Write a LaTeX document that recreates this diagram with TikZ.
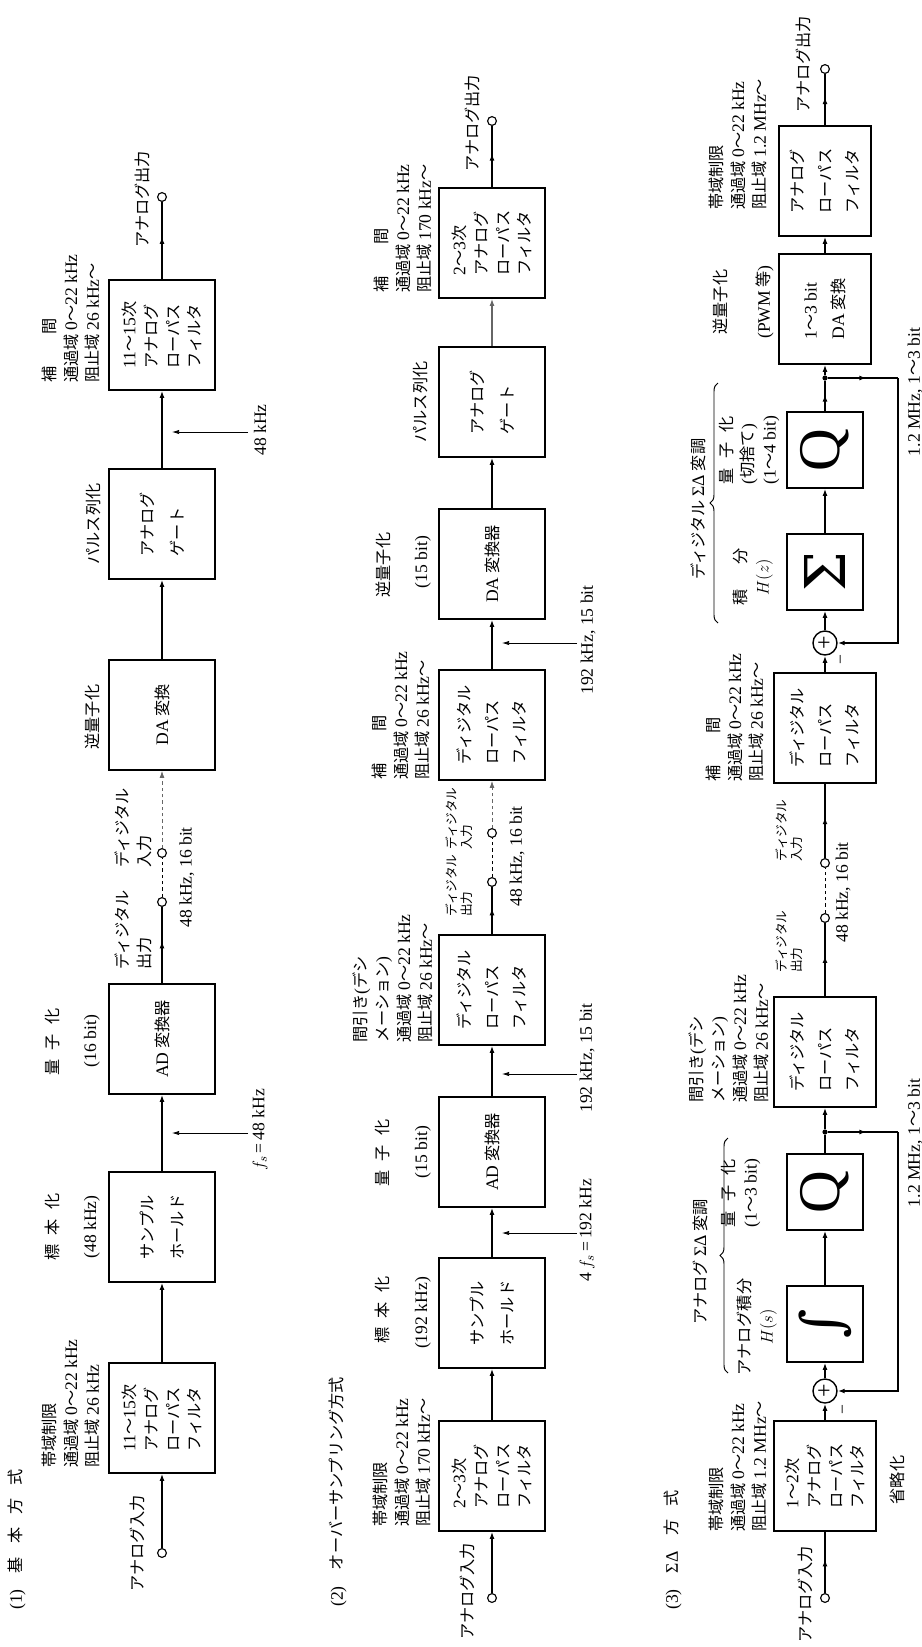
\documentclass[tikz,border=0pt]{standalone}
\usepackage{fontspec}
\setmainfont{Liberation Serif}
\newfontfamily\jpfont{Noto Sans CJK JP}
\newfontfamily\glyphfont{DejaVu Serif}
\usetikzlibrary{arrows.meta,decorations.markings,decorations.pathreplacing}
\newcommand{\latn}[1]{{\rmfamily\fontsize{12.5}{15}\selectfont #1}}
\newcommand{\passband}{通過域 \latn{0}～\latn{22 kHz}}

\begin{document}
\begin{tikzpicture}[x=0.025cm, y=-0.025cm,
  every node/.style={rotate=90, inner sep=0pt, align=left, font=\jpfont\fontsize{11.5}{15.5}\selectfont},
  blk/.style={draw, line width=1.1pt, minimum width=2.75cm, minimum height=2.65cm},
  sq/.style={draw, line width=1.1pt, minimum width=1.9cm, minimum height=1.9cm},
  big/.style={font=\rmfamily\fontsize{42}{42}\selectfont},
  bigsym/.style={font=\glyphfont\fontsize{40}{40}\selectfont},
  term/.style={circle, draw, fill=white, line width=0.8pt, minimum size=0.22cm},
  dot/.style={circle, fill, minimum size=0.13cm},
  sum/.style={circle, draw, line width=1pt, minimum size=0.6cm, font=\rmfamily\fontsize{17}{17}\selectfont},
  small/.style={font=\jpfont\fontsize{9}{11}\selectfont},
  flow/.style={line width=1.1pt, -{Latex[length=5pt,width=3.5pt]}},
  plain/.style={line width=1.1pt},
  midarr/.style={line width=1.1pt, postaction={decorate}, decoration={markings, mark=at position 0.55 with {\arrow{Latex[length=5pt,width=3.5pt]}}}},
  dig/.style={line width=0.7pt, dash pattern=on 2.5pt off 2pt},
  clk/.style={line width=0.5pt, -{Latex[length=5pt,width=3pt]}, shorten >=0.25cm},
  brc/.style={decorate, decoration={brace, amplitude=0.2cm}, line width=0.7pt}
]
\useasboundingbox (0,0) rectangle (922,1647);

% (1) basic
\node[anchor=west] (s1t) at (17,1610) {\latn{(1)}\hspace{1em}基\hspace{0.8em}本\hspace{0.8em}方\hspace{0.8em}式};
\node[term] (s1in) at (162,1553) {};
\node[blk] (s1lpfin) at (162,1418) {\latn{11}～\latn{15}次\\アナログ\\ローパス\\フィルタ};
\node[blk] (s1sh) at (162,1227) {サンプル\\[6pt]ホールド};
\node[blk] (s1ad) at (162,1039) {\latn{AD} 変換器};
\node[term] (s1dout) at (162,902) {};
\node[term] (s1din) at (162,853) {};
\node[blk] (s1da) at (162,715) {\latn{DA} 変換};
\node[blk] (s1gate) at (162,524) {アナログ\\[6pt]ゲート};
\node[blk] (s1lpfout) at (162,335) {\latn{11}～\latn{15}次\\アナログ\\ローパス\\フィルタ};
\node[term] (s1out) at (162,197) {};

\node[anchor=west] (s1lin) at (137,1592) {アナログ入力};
\node[anchor=west] (s1lpfinl) at (71,1468) {帯域制限\\\passband\\阻止域 \latn{26 kHz}};
\node (s1shl1) at (52,1227) {標\hspace{0.6em}本\hspace{0.6em}化};
\node (s1shl2) at (92,1227) {\latn{(48 kHz)}};
\node (s1adl1) at (52,1042) {量\hspace{0.6em}子\hspace{0.6em}化};
\node (s1adl2) at (92,1041) {\latn{(16 bit)}};
\node[anchor=west] (s1dol) at (133,970) {ディジタル\\出力};
\node[anchor=west] (s1dil) at (133,868) {ディジタル\\入力};
\node[anchor=west] (s1rate) at (187,928) {\latn{48 kHz, 16 bit}};
\node (s1dal) at (92,717) {逆量子化};
\node (s1gatel) at (93,524) {パルス列化};
\node[anchor=west] (s1lpfoutl) at (71,383) {補　　間\\\passband\\阻止域 \latn{26 kHz}～};
\node[anchor=west] (s1lout) at (142,248) {アナログ出力};
\node (s1c1l) at (260,1130) {\latn{$f_s$\,=\,48 kHz}};
\node (s1c2l) at (260,430) {\latn{48 kHz}};
\coordinate (s1c1) at (248,1133);
\coordinate (s1c2) at (248,432);

\draw[flow] (s1in) -- (s1lpfin);
\draw[flow] (s1lpfin) -- (s1sh);
\draw[flow] (s1sh) -- (s1ad);
\draw[midarr] (s1ad) -- (s1dout);
\draw[dig] (s1dout) -- (s1din);
\draw[dig, black!60, -{Latex[length=5pt,width=3.5pt]}] (s1din) -- (s1da);
\draw[flow] (s1da) -- (s1gate);
\draw[flow] (s1gate) -- (s1lpfout);
\draw[midarr] (s1lpfout) -- (s1out);
\draw[clk] (s1c1) -- (s1c1 -| s1ad.center);
\draw[clk] (s1c2) -- (s1c2 -| s1gate.center);

% (2) oversampling
\node[anchor=west] (s2t) at (338,1607) {\latn{(2)}\hspace{1em}オーバーサンプリング方式};
\node[term] (s2in) at (492,1598) {};
\node[blk] (s2lpfin) at (492,1476) {\latn{2}～\latn{3}次\\アナログ\\ローパス\\フィルタ};
\node[blk] (s2sh) at (492,1313) {サンプル\\[6pt]ホールド};
\node[blk] (s2ad) at (492,1152) {\latn{AD} 変換器};
\node[blk] (s2decim) at (492,990) {ディジタル\\[4pt]ローパス\\[4pt]フィルタ};
\node[term] (s2dout) at (492,882) {};
\node[term] (s2din) at (492,833) {};
\node[blk] (s2interp) at (492,725) {ディジタル\\[4pt]ローパス\\[4pt]フィルタ};
\node[blk] (s2da) at (492,564) {\latn{DA} 変換器};
\node[blk] (s2gate) at (492,402) {アナログ\\[6pt]ゲート};
\node[blk] (s2lpfout) at (492,243) {\latn{2}～\latn{3}次\\アナログ\\ローパス\\フィルタ};
\node[term] (s2out) at (492,121) {};

\node[anchor=west] (s2lin) at (467,1640) {アナログ入力};
\node[anchor=west] (s2lpfinl) at (402,1527) {帯域制限\\\passband\\阻止域 \latn{170 kHz}～};
\node (s2shl1) at (382,1310) {標\hspace{0.6em}本\hspace{0.6em}化};
\node (s2shl2) at (423,1313) {\latn{(192 kHz)}};
\node (s2adl1) at (382,1153) {量\hspace{0.6em}子\hspace{0.6em}化};
\node (s2adl2) at (423,1152) {\latn{(15 bit)}};
\node[anchor=west] (s2decl) at (393,1043) {間引き\latn{(}デシ\\メーション\latn{)}\\\passband\\阻止域 \latn{26 kHz}～};
\node[small, anchor=west] (s2dol) at (459,917) {ディジタル\\出力};
\node[small, anchor=west] (s2dil) at (459,850) {ディジタル\\入力};
\node[anchor=west] (s2rate) at (517,907) {\latn{48 kHz, 16 bit}};
\node[anchor=west] (s2intl) at (401,780) {補　　間\\\passband\\阻止域 \latn{26 kHz}～};
\node (s2dal1) at (383,565) {逆量子化};
\node (s2dal2) at (423,562) {\latn{(15 bit)}};
\node (s2gatel) at (420,402) {パルス列化};
\node[anchor=west] (s2lpfoutl) at (403,293) {補　　間\\\passband\\阻止域 \latn{170 kHz}～};
\node[anchor=west] (s2lout) at (472,172) {アナログ出力};
\node (s2c1l) at (587,1230) {\latn{4\,$f_s$\,=\,192 kHz}};
\node (s2c2l) at (587,1058) {\latn{192 kHz, 15 bit}};
\node (s2c3l) at (588,640) {\latn{192 kHz, 15 bit}};
\coordinate (s2c1) at (577,1233);
\coordinate (s2c2) at (577,1074);
\coordinate (s2c3) at (577,643);

\draw[flow] (s2in) -- (s2lpfin);
\draw[flow] (s2lpfin) -- (s2sh);
\draw[flow] (s2sh) -- (s2ad);
\draw[flow] (s2ad) -- (s2decim);
\draw[midarr] (s2decim) -- (s2dout);
\draw[dig] (s2dout) -- (s2din);
\draw[dig, black!60, -{Latex[length=5pt,width=3.5pt]}] (s2din) -- (s2interp);
\draw[flow] (s2interp) -- (s2da);
\draw[flow] (s2da) -- (s2gate);
\draw[flow, black!60] (s2gate) -- (s2lpfout);
\draw[midarr] (s2lpfout) -- (s2out);
\draw[clk] (s2c1) -- (s2c1 -| s2sh.center);
\draw[clk] (s2c2) -- (s2c2 -| s2ad.center);
\draw[clk] (s2c3) -- (s2c3 -| s2da.center);

% (3) sigma-delta
\node[anchor=west] (s3t) at (673,1610) {\latn{(3)}\hspace{1em}\latn{ΣΔ}\hspace{1em}方\hspace{0.8em}式};
\node[term] (s3in) at (825,1598) {};
\node[blk, minimum height=2.55cm] (s3lpfin) at (825,1476) {\latn{1}～\latn{2}次\\アナログ\\ローパス\\フィルタ};
\node[sum] (s3sum1) at (825,1391) {+};
\node[sq, bigsym] (s3int) at (825,1324) {∫};
\node[sq, big] (s3q1) at (825,1192) {Q};
\node[dot] (s3j1) at (825,1132) {};
\node[blk, minimum height=2.55cm] (s3decim) at (825,1052) {ディジタル\\[4pt]ローパス\\[4pt]フィルタ};
\node[term] (s3dout) at (825,918) {};
\node[term] (s3din) at (825,863) {};
\node[blk, minimum height=2.55cm] (s3interp) at (825,728) {ディジタル\\[4pt]ローパス\\[4pt]フィルタ};
\node[sum] (s3sum2) at (825,643) {+};
\node[sq, bigsym] (s3sig) at (825,572) {Σ};
\node[sq, big] (s3q2) at (825,450) {Q};
\node[dot] (s3j2) at (825,378) {};
\node[blk, minimum height=2.3cm] (s3da) at (825,309) {\latn{1}～\latn{3 bit}\\[4pt]\latn{DA} 変換};
\node[blk, minimum height=2.3cm] (s3lpfout) at (825,181) {アナログ\\[4pt]ローパス\\[4pt]フィルタ};
\node[term] (s3out) at (825,69) {};
\coordinate (s3f1) at (898,1132);
\coordinate (s3f2) at (898,378);

\node[anchor=west] (s3lin) at (805,1643) {アナログ入力};
\node[anchor=west] (s3lpfinl) at (738,1532) {帯域制限\\\passband\\阻止域 \latn{1.2 MHz}～};
\node (s3omit) at (897,1480) {省略化};
\node (s3m1) at (845,1410) {\latn{−}};
\node[align=center] (s3intl) at (757,1327) {アナログ積分\\\latn{$H(s)$}};
\node (s3asd) at (700,1262) {アナログ \latn{ΣΔ} 変調};
\node (s3q1l) at (741,1193) {量\hspace{0.6em}子\hspace{0.6em}化\\\latn{(1}～\latn{3 bit)}};
\node (s3fb1l) at (915,1143) {\latn{1.2 MHz, 1}～\latn{3 bit}};
\node[anchor=west] (s3decl) at (729,1103) {間引き\latn{(}デシ\\メーション\latn{)}\\\passband\\阻止域 \latn{26 kHz}～};
\node[small, anchor=west] (s3dol) at (789,973) {ディジタル\\出力};
\node[small, anchor=west] (s3dil) at (789,862) {ディジタル\\入力};
\node[anchor=west] (s3rate) at (843,943) {\latn{48 kHz, 16 bit}};
\node[anchor=west] (s3intpl) at (735,782) {補　　間\\\passband\\阻止域 \latn{26 kHz}～};
\node (s3m2) at (843,660) {\latn{−}};
\node[align=center] (s3sigl) at (753,577) {積\hspace{1.5em}分\\\latn{$H(z)$}};
\node (s3q2l) at (749,450) {量\hspace{0.6em}子\hspace{0.6em}化\\\latn{(}切捨て\latn{)}\\\latn{(1}～\latn{4 bit)}};
\node (s3dsd) at (698,509) {ディジタル \latn{ΣΔ} 変調};
\node (s3fb2l) at (915,392) {\latn{1.2 MHz, 1}～\latn{3 bit}};
\node (s3dal1) at (720,302) {逆量子化};
\node (s3dal2) at (765,302) {\latn{(PWM} 等\latn{)}};
\node[anchor=west] (s3lpfoutl) at (738,210) {帯域制限\\\passband\\阻止域 \latn{1.2 MHz}～};
\node[anchor=west] (s3lout) at (803,113) {アナログ出力};

\draw[midarr] (s3in) -- (s3lpfin);
\draw[flow] (s3lpfin) -- (s3sum1);
\draw[flow] (s3sum1) -- (s3int);
\draw[flow] (s3int) -- (s3q1);
\draw[plain] (s3q1) -- (s3j1);
\draw[flow] (s3j1) -- (s3decim);
\draw[midarr] (s3j1) -- (s3f1);
\draw[flow] (s3f1) |- (s3sum1);
\draw[midarr] (s3decim) -- (s3dout);
\draw[dig] (s3dout) -- (s3din);
\draw[midarr] (s3din) -- (s3interp);
\draw[flow] (s3interp) -- (s3sum2);
\draw[flow] (s3sum2) -- (s3sig);
\draw[flow] (s3sig) -- (s3q2);
\draw[midarr] (s3q2) -- (s3j2);
\draw[flow] (s3j2) -- (s3da);
\draw[midarr] (s3j2) -- (s3f2);
\draw[flow] (s3f2) |- (s3sum2);
\draw[flow] (s3da) -- (s3lpfout);
\draw[midarr] (s3lpfout) -- (s3out);
\draw[brc] (728,1373) -- (728,1138);
\draw[brc] (718,623) -- (718,383);
\end{tikzpicture}
\end{document}
